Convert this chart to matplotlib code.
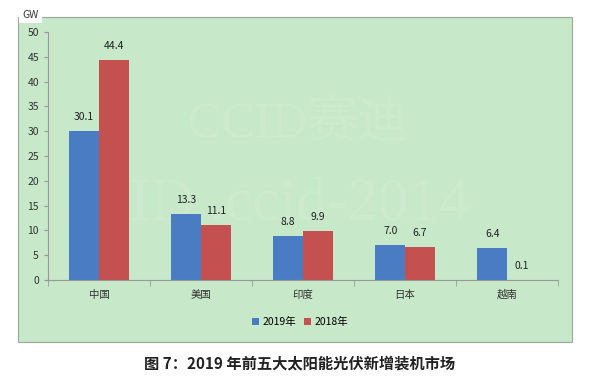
import matplotlib
matplotlib.use("Agg")
import matplotlib.pyplot as plt
from matplotlib.patches import Rectangle
import numpy as np

plt.rcParams['font.family'] = ['Noto Sans CJK SC', 'DejaVu Sans']

categories = ["中国", "美国", "印度", "日本", "越南"]
v2019 = [30.1, 13.3, 8.8, 7.0, 6.4]
v2018 = [44.4, 11.1, 9.9, 6.7, 0.1]
series_names = ["2019年", "2018年"]
yticks = [0, 5, 10, 15, 20, 25, 30, 35, 40, 45, 50]

blue = "#4A7CC3"
red = "#C4504F"
panel = "#C7E8C9"

fig = plt.figure(figsize=(6, 3.84), dpi=100)
fig.patch.set_facecolor("white")

# green panel
fig.patches.append(Rectangle((18/600, 1-342/384), (572-18)/600, (342-17)/384,
                             transform=fig.transFigure, facecolor=panel,
                             edgecolor="#9aa89a", lw=0.8, zorder=-5))
# GW label box
fig.text(22/600, 1-15/384, "GW", fontsize=7.5, va="center", ha="left", color="#333333",
         bbox=dict(facecolor="white", edgecolor="none", pad=2.5), zorder=3)

# watermark
fig.text(298/600, 1-125/384, "CCID赛迪", fontsize=36, color="white", alpha=0.12,
         ha="center", va="center", zorder=-4,
         family=["Liberation Serif", "Noto Sans CJK SC"])
fig.text(300/600, 1-205/384, "ID .ccid-2014", fontsize=44, color="white", alpha=0.12,
         ha="center", va="center", zorder=-4, family=["Liberation Serif"])

ax = fig.add_axes([48/600, 1-280/384, (558-48)/600, (280-32)/384])
ax.set_facecolor("none")
x = np.arange(len(categories))
w = 0.29
b1 = ax.bar(x - w/2, v2019, w, color=blue, label=series_names[0], zorder=2)
b2 = ax.bar(x + w/2, v2018, w, color=red, label=series_names[1], zorder=2)
for bars, vals in ((b1, v2019), (b2, v2018)):
    for r, v in zip(bars, vals):
        ax.text(r.get_x() + r.get_width()/2, v + 1.8, f"{v:.1f}", ha="center",
                va="bottom", fontsize=7.5, color="#222222")

ax.set_xlim(-0.5, len(categories) - 0.5)
ax.set_ylim(0, 50)
ax.set_yticks(yticks)
ax.set_xticks(x)
ax.set_xticklabels(categories, fontsize=7.5, color="#333333")
ax.set_xticks(np.arange(-0.5, len(categories)), minor=True)
ax.tick_params(axis="x", which="major", length=0, pad=7)
ax.tick_params(axis="x", which="minor", length=4, color="#999999")
ax.tick_params(axis="y", length=3, color="#999999", labelsize=7.5, labelcolor="#333333")
for s in ("top", "right"):
    ax.spines[s].set_visible(False)
for s in ("left", "bottom"):
    ax.spines[s].set_color("#999999")
    ax.spines[s].set_linewidth(0.8)

fig.legend(handles=[b1, b2], labels=series_names, loc="center",
           bbox_to_anchor=(300/600, 1-322/384), ncol=2, frameon=False,
           fontsize=7.5, handlelength=0.7, handleheight=0.7, handletextpad=0.3,
           columnspacing=0.8)

fig.text(0.5, 1-363/384, "图 7：2019 年前五大太阳能光伏新增装机市场", fontsize=11,
         ha="center", va="center", color="#222222", fontweight="bold")

fig.savefig("out.png", dpi=100)
